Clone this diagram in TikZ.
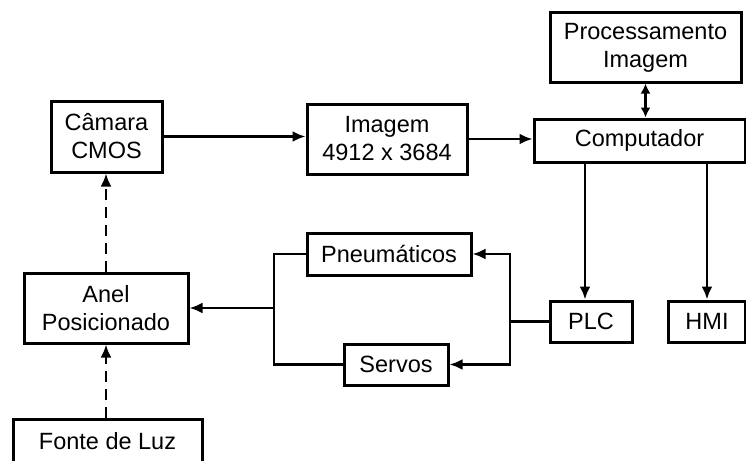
\documentclass[tikz,border=0pt]{standalone}
\usepackage{fontspec}
\setmainfont{Liberation Sans}
\usetikzlibrary{arrows.meta}
\newcommand*{\blockfont}{\fontsize{23.5}{28}\selectfont}
\tikzset{
  block/.style = {draw, line width=3pt, align=center, inner sep=0pt,
    font=\blockfont},
  flow/.style = {line width=2.8pt, -{Latex[length=13pt,width=11pt]}},
  both/.style = {line width=2.8pt, {Latex[length=10pt,width=10pt]}-{Latex[length=10pt,width=10pt]}},
  wire/.style = {line width=2.8pt},
  light/.style = {flow, dash pattern=on 11pt off 7pt},
}

\begin{document}
\begin{tikzpicture}[x=1pt, y=-1pt]
  \useasboundingbox (0,0) rectangle (746,460);
  \clip (0,0) rectangle (746,460);

  % blocks
  \node[block, minimum width=111pt, minimum height=71pt] (camara) at (106.5,136.5) {Câmara\\CMOS};
  \node[block, minimum width=160pt, minimum height=70pt] (imagem) at (387,139) {Imagem\\4912 x 3684};
  \node[block, minimum width=191pt, minimum height=69pt] (proc) at (645.5,47.5) {Processamento\\Imagem};
  \node[block, minimum width=211pt, minimum height=43pt] (comp) at (639.5,140.5) {Computador};
  \node[block, minimum width=82pt, minimum height=41pt] (plc) at (591,321.5) {PLC};
  \node[block, minimum width=77pt, minimum height=41pt] (hmi) at (707,321.5) {HMI};
  \node[block, minimum width=164pt, minimum height=42pt] (pneu) at (389,254) {Pneumáticos};
  \node[block, minimum width=104pt, minimum height=41pt] (servos) at (396,364.5) {Servos};
  \node[block, minimum width=164pt, minimum height=70pt] (anel) at (106,308) {Anel\\Posicionado};
  \node[block, minimum width=189pt, minimum height=44pt] (fonte) at (107.5,441) {Fonte de Luz};

  \coordinate (split) at (510,321.5);
  \coordinate (join) at (274,308);

  % connections
  \draw[flow] (camara.east) -- (imagem.west |- camara.east);
  \draw[flow] (imagem.east) -- (imagem.east -| comp.west);
  \draw[both] (proc.south) -- (proc.south |- comp.north);
  \draw[flow] ([xshift=-6pt]plc.north |- comp.south) -- ([xshift=-6pt]plc.north);
  \draw[flow] (hmi.north |- comp.south) -- (hmi.north);
  \draw[wire] (plc.west) -- (split);
  \draw[flow] (split) |- (pneu.east);
  \draw[flow] (split) |- (servos.east);
  \draw[wire] (pneu.west) -| (join) |- (servos.west);
  \draw[flow] (join) -- (anel.east);
  \draw[light] (anel.north) -- (anel.north |- camara.south);
  \draw[light] (anel.south |- fonte.north) -- (anel.south);

\end{tikzpicture}
\end{document}
